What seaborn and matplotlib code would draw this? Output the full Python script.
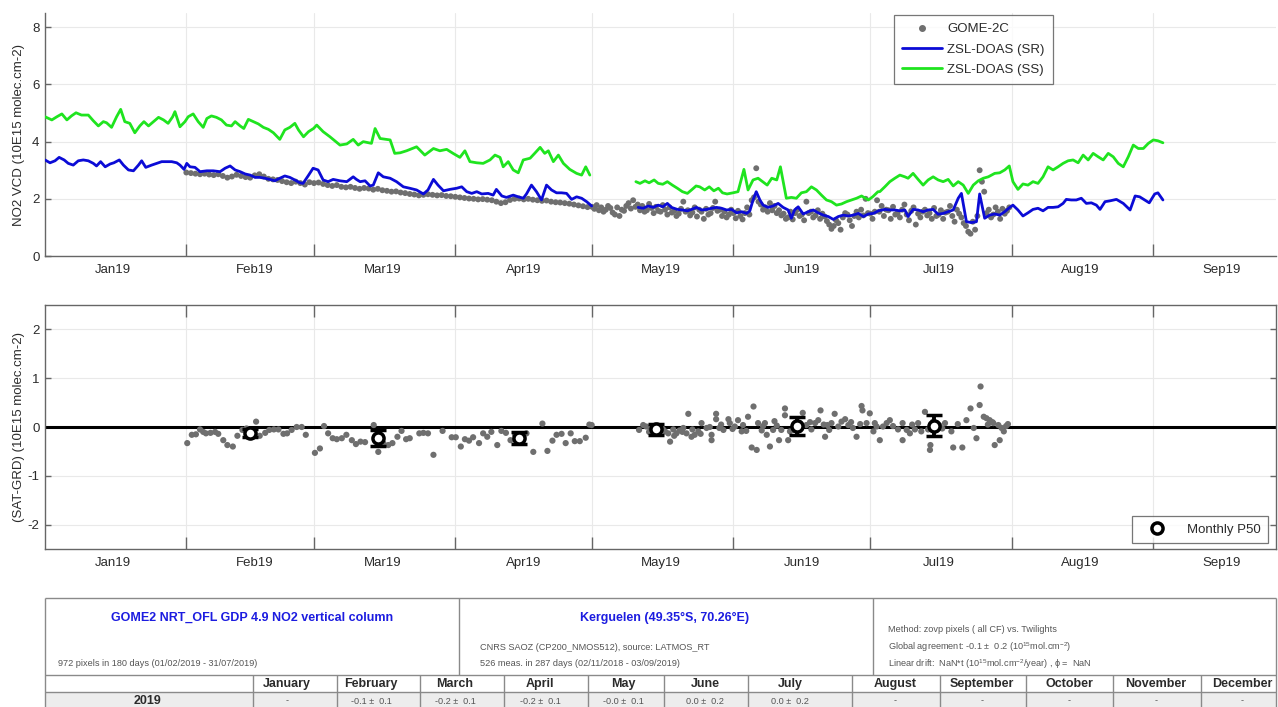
import numpy as np
import pandas as pd
import matplotlib
matplotlib.use("Agg")
import matplotlib.pyplot as plt
import matplotlib.dates as mdates
from matplotlib.lines import Line2D
import seaborn as sns

# ---------------- data: days since 2019-01-01 ----------------
sr1_day = [0, 1.1, 2.2, 3.1, 4.2, 5.1, 6.2, 7.3, 8.4, 9.5, 10.6, 11.3, 12.2, 13.2, 14.3, 15.1, 16.3, 17.2, 18.3, 19.4,
           20.5, 21.2, 22.1, 23.4, 24.5, 25.6, 26.7, 27.8, 28.9, 29.6, 30.5, 31.1, 31.8, 32.9, 34.0, 35.5, 36.9, 38.4, 39.5, 40.6,
           41.7, 42.8, 43.9, 45.0, 46.1, 47.1, 48.2, 49.3, 50.4, 51.5, 52.6, 53.7, 54.8, 55.9, 56.6, 57.7, 58.8, 59.9,
           61.0, 62.1, 63.2, 64.7, 66.2, 67.6, 68.3, 69.1, 70.2, 71.3, 72.0, 73.1, 74.2, 75.7, 77.1, 78.6, 80.0, 81.5, 83.0, 84.0,
           85.2, 86.2, 87.4, 88.8, 90.3, 91.4, 92.5, 93.6, 94.7, 95.8, 97.2, 98.3, 99.0, 100.2, 101.2, 102.7, 103.8, 104.9, 105.6, 106.7,
           107.8, 108.9, 110.0, 111.1, 112.2, 113.3, 114.4, 115.5, 116.6, 117.7, 118.8, 119.9]
sr1_val = [3.36, 3.26, 3.33, 3.45, 3.36, 3.24, 3.18, 3.33, 3.36, 3.33, 3.24, 3.15, 3.30, 3.12, 3.22, 3.26, 3.36, 3.18, 3.01, 2.98,
           3.18, 3.33, 3.10, 3.18, 3.24, 3.30, 3.30, 3.30, 3.26, 3.18, 3.03, 3.24, 3.12, 3.10, 2.95, 2.98, 2.98, 2.95, 3.07, 3.15,
           3.01, 2.95, 2.87, 2.83, 2.75, 2.75, 2.72, 2.68, 2.63, 2.72, 2.80, 2.75, 2.66, 2.56, 2.54, 2.80, 3.07, 3.01,
           2.66, 2.60, 2.68, 2.63, 2.60, 2.77, 2.68, 2.60, 2.63, 2.45, 2.48, 2.91, 2.77, 2.72, 2.60, 2.42, 2.37, 2.31, 2.17, 2.31,
           2.68, 2.48, 2.28, 2.33, 2.37, 2.42, 2.25, 2.19, 2.25, 2.17, 2.19, 2.13, 2.33, 2.10, 2.05, 2.13, 2.07, 2.02, 2.17, 2.48,
           2.25, 1.96, 2.48, 2.31, 2.21, 2.21, 2.19, 1.98, 2.07, 2.02, 1.90, 1.75]

sr2_day = [130.1, 131.2, 132.3, 133.4, 134.5, 135.5, 136.5, 137.4, 138.7, 139.8, 140.9, 141.8, 142.9, 144.0, 145.1, 146.2, 147.3, 148.4, 149.5, 150.6,
           151.7, 152.8, 153.9, 154.6, 155.3, 156.0, 156.8, 157.5, 158.6, 159.7, 160.8, 161.9, 163.0, 163.7, 164.4, 165.2, 166.3, 167.4, 168.5, 169.6,
           170.7, 171.8, 172.9, 174.0, 175.1, 176.2, 177.3, 178.4, 179.5, 180.6, 181.7, 182.8,
           184.2, 185.3, 186.4, 187.5, 188.6, 189.3, 190.4, 191.5, 192.6, 193.7, 194.8, 195.9, 197.0, 198.1, 199.2, 200.3, 201.0, 202.1,
           203.2, 204.3, 205.0, 206.1, 207.2, 208.3, 209.4, 210.5, 211.6, 212.3, 213.4, 214.5, 215.6, 216.7, 217.8, 218.9, 220.0, 221.1, 222.2, 223.3,
           224.0, 225.1, 226.2, 227.3, 228.4, 229.5, 230.6, 231.4, 232.5, 233.6, 235.0, 236.5, 238.0, 239.1, 240.1, 241.2, 242.2, 243.4, 244.1, 245.2]
sr2_val = [1.70, 1.67, 1.75, 1.70, 1.78, 1.72, 1.84, 1.70, 1.63, 1.61, 1.58, 1.63, 1.70, 1.61, 1.63, 1.67, 1.70, 1.67, 1.61, 1.63,
           1.51, 1.55, 1.49, 1.58, 1.96, 2.25, 1.96, 1.78, 1.70, 1.75, 1.84, 1.70, 1.61, 1.32, 1.61, 1.72, 1.47, 1.55, 1.61, 1.51,
           1.43, 1.38, 1.28, 1.38, 1.43, 1.40, 1.43, 1.49, 1.38, 1.47, 1.49, 1.58,
           1.63, 1.61, 1.61, 1.58, 1.61, 1.38, 1.63, 1.61, 1.55, 1.61, 1.63, 1.46, 1.49, 1.55, 1.61, 2.02, 2.19, 1.20,
           1.17, 1.20, 2.17, 1.32, 1.43, 1.47, 1.43, 1.55, 1.70, 1.78, 1.61, 1.40, 1.51, 1.63, 1.67, 1.58, 1.70, 1.70, 1.72, 1.84,
           1.98, 1.96, 1.96, 2.02, 1.84, 1.86, 1.78, 1.63, 1.90, 1.93, 1.98, 1.84, 1.61, 2.10, 2.07, 1.96, 1.86, 2.17, 2.21, 1.96]

ss1_day = [0, 1.5, 2.6, 3.7, 4.8, 5.8, 6.8, 8.0, 9.5, 10.6, 11.7, 12.8, 13.5, 14.6, 15.7, 16.6, 17.5, 18.6, 19.7, 20.8,
           21.7, 22.7, 23.8, 24.9, 26.0, 27.0, 28.0, 28.5, 29.6, 30.7, 31.4, 32.5, 33.6, 34.7, 35.5, 36.5, 37.6, 38.7, 39.8, 40.9,
           41.7, 42.8, 43.6, 44.6, 45.7, 46.8, 47.9, 49.0, 50.1, 51.5, 52.6, 53.7, 54.8, 55.6, 56.7, 57.8, 58.9, 59.6, 61.0, 62.5,
           64.7, 66.2, 67.6, 68.7, 69.8, 71.6, 72.4, 73.5, 75.7, 76.7, 77.9, 79.3, 81.5, 83.3, 85.2, 86.6, 88.1, 89.5, 91.0, 92.1,
           93.2, 94.7, 96.1, 97.6, 98.7, 99.8, 100.5, 101.6, 102.7, 103.8, 104.9, 106.4, 107.4, 108.6, 109.6, 110.4, 111.5, 112.6, 113.7, 115.1,
           116.6, 117.7, 118.6, 119.5]
ss1_val = [4.87, 4.76, 4.87, 4.97, 4.76, 4.90, 5.01, 4.93, 4.93, 4.73, 4.55, 4.70, 4.66, 4.50, 4.87, 5.13, 4.70, 4.64, 4.31, 4.55,
           4.70, 4.55, 4.70, 4.85, 4.76, 4.64, 4.87, 5.05, 4.52, 4.70, 4.87, 4.97, 4.70, 4.50, 4.81, 4.90, 4.85, 4.76, 4.58, 4.55,
           4.70, 4.55, 4.46, 4.78, 4.70, 4.62, 4.50, 4.43, 4.31, 4.08, 4.41, 4.50, 4.64, 4.41, 4.17, 4.35, 4.46, 4.58, 4.35, 4.17,
           3.88, 3.92, 4.08, 3.88, 4.00, 3.94, 4.46, 4.11, 4.06, 3.59, 3.61, 3.68, 3.82, 3.53, 3.76, 3.68, 3.73, 3.59, 3.45, 3.68,
           3.30, 3.26, 3.24, 3.36, 3.53, 3.45, 3.12, 3.30, 3.01, 2.91, 3.36, 3.42, 3.59, 3.80, 3.59, 3.68, 3.30, 3.53, 3.24, 3.03,
           2.89, 2.83, 3.12, 2.83]

ss2_day = [129.6, 130.5, 131.6, 132.5, 133.6, 134.5, 135.5, 136.5, 137.6, 138.7, 139.8, 140.9, 141.8, 142.8, 143.6, 144.7, 145.7, 146.7, 147.7, 148.6,
           149.6, 150.9, 152.0, 153.3, 154.2, 155.3, 156.4, 157.4, 158.4, 159.4, 160.5, 161.3, 162.6, 163.7, 164.8, 165.9, 167.0, 168.1, 169.2, 170.3,
           171.4, 172.5, 173.6, 174.7, 175.8, 176.9, 178.0, 179.1, 180.6, 181.6, 182.7,
           183.1, 184.2, 185.3, 186.4, 187.5, 188.6, 189.3, 190.4, 191.5, 192.6, 193.7, 194.8, 195.9, 197.0, 198.1, 199.2, 200.3, 201.4, 202.5,
           203.6, 204.7, 205.8, 206.9, 208.3, 209.4, 210.5, 211.5, 212.3, 213.4, 214.5, 215.6, 216.7, 217.8, 218.9, 220.0, 221.1, 222.2, 223.3, 224.4,
           225.5, 226.6, 227.7, 228.8, 229.9, 231.0, 232.1, 233.2, 234.3, 235.4, 236.5, 237.6, 238.7, 239.8, 240.9, 242.0, 243.1, 244.1, 245.2]
ss2_val = [2.60, 2.54, 2.63, 2.56, 2.66, 2.54, 2.51, 2.60, 2.48, 2.37, 2.25, 2.19, 2.31, 2.45, 2.42, 2.31, 2.42, 2.28, 2.37, 2.21,
           2.17, 2.21, 2.25, 3.03, 2.31, 2.66, 2.72, 2.60, 2.48, 2.72, 2.66, 3.12, 2.02, 2.05, 2.02, 2.21, 2.25, 2.42, 2.31, 2.13,
           1.96, 1.90, 1.78, 1.82, 1.90, 1.96, 2.02, 2.10, 1.96, 2.08, 2.25,
           2.25, 2.42, 2.60, 2.72, 2.83, 2.77, 2.72, 2.89, 2.68, 2.48, 2.66, 2.77, 2.66, 2.60, 2.68, 2.45, 2.60, 2.48, 2.19,
           2.48, 2.63, 2.72, 2.77, 2.89, 2.91, 3.01, 3.15, 2.60, 2.33, 2.52, 2.48, 2.60, 2.54, 2.77, 3.12, 3.01, 3.12, 3.24, 3.33,
           3.36, 3.26, 3.53, 3.36, 3.59, 3.47, 3.36, 3.59, 3.47, 3.24, 3.12, 3.47, 3.88, 3.76, 3.76, 3.94, 4.06, 4.03, 3.96]

# GOME-2C, Feb-Apr: one value per day from day 31 (Feb 1)
gome_fa_start = 31
gome_fa_val = [2.92, 2.90, 2.88, 2.86, 2.88, 2.85, 2.83, 2.86, 2.80, 2.74,
               2.78, 2.84, 2.80, 2.76, 2.74, 2.82, 2.86, 2.78, 2.70, 2.68,
               2.66, 2.62, 2.58, 2.55, 2.60, 2.55, 2.50, 2.58, 2.55, 2.57,
               2.52, 2.48, 2.45, 2.48, 2.42, 2.40, 2.42, 2.38, 2.35, 2.38,
               2.36, 2.32, 2.35, 2.30, 2.28, 2.25, 2.26, 2.22, 2.20, 2.17,
               2.15, 2.12, 2.14, 2.16, 2.14, 2.12, 2.13, 2.10, 2.09, 2.07,
               2.05, 2.03, 2.01, 2.00, 1.98, 1.99, 1.97, 1.95, 1.90, 1.85,
               1.88, 1.96, 2.00, 2.01, 1.98, 2.00, 1.97, 1.95, 1.93, 1.94,
               1.90, 1.88, 1.87, 1.85, 1.83, 1.80, 1.77, 1.74, 1.71]
# GOME-2C, May-Jul: two pixels per day from day 120 (May 1)
gome_mj_start = 120
gome_mj_val = [(1.72, 1.65), (1.78, 1.60), (1.70, 1.55), (1.62, 1.75), (1.68, 1.52), (1.45, 1.70), (1.40, 1.62), (1.58, 1.75),
               (1.85, 1.66), (1.95, 1.72), (1.80, 1.60),
               (1.75, 1.55), (1.60, 1.82), (1.68, 1.50), (1.72, 1.58), (1.55, 1.78), (1.62, 1.45), (1.70, 1.52), (1.58, 1.40),
               (1.48, 1.65), (1.90, 1.55), (1.60, 1.42), (1.52, 1.70), (1.38, 1.62), (1.55, 1.30), (1.65, 1.45), (1.50, 1.68),
               (1.90, 1.58), (1.62, 1.40), (1.55, 1.35), (1.45, 1.62), (1.50, 1.32), (1.58, 1.40), (1.28, 1.50), (1.70, 1.45),
               (1.95, 2.05), (3.07, 1.90), (1.80, 1.62), (1.70, 1.55), (1.85, 1.60), (1.75, 1.50),
               (1.60, 1.42), (1.48, 1.30), (1.35, 1.55), (1.28, 1.50), (1.62, 1.40), (1.45, 1.25), (1.90, 1.50), (1.55, 1.35),
               (1.42, 1.60), (1.30, 1.48), (1.38, 1.22), (1.10, 0.95), (1.05, 1.25), (1.15, 0.92), (1.35, 1.50), (1.45, 1.25),
               (1.05, 1.40), (1.55, 1.35), (1.62, 1.42), (2.00, 1.50), (1.48, 1.30), (1.55, 1.95),
               (1.55, 1.75), (1.40, 1.62), (1.60, 1.30), (1.72, 1.45), (1.50, 1.35), (1.62, 1.80), (1.45, 1.25), (1.58, 1.70),
               (1.10, 1.48), (1.35, 1.55), (1.62, 1.42), (1.50, 1.30), (1.68, 1.40), (1.45, 1.60), (1.30, 1.52), (1.55, 1.75),
               (1.40, 1.20), (1.62, 1.48), (1.35, 1.15), (1.05, 0.85), (0.78, 1.20), (0.92, 1.40), (3.00, 2.60), (2.25, 1.50),
               (1.62, 1.35), (1.45, 1.70), (1.55, 1.30), (1.65, 1.48), (1.58, 1.70)]

# SAT-GRD differences
diff_day = [31.2, 32.2, 33.1, 34.0, 34.7, 35.3, 36.3, 37.3, 38.0, 39.1, 40.0, 41.2, 42.2, 43.3, 44.2, 46.3, 47.1, 48.3, 49.2, 50.2,
            51.2, 52.3, 53.1, 54.1, 55.2, 56.3, 57.2, 59.2, 60.3, 61.2, 62.1, 63.1, 64.0, 65.1, 66.1, 67.3, 68.2, 69.2, 70.2, 72.1,
            73.1, 74.2, 75.3, 76.2, 77.3, 78.2, 79.2, 80.0, 82.1, 83.0, 84.0, 85.2, 87.2, 89.2, 90.1, 91.2, 92.1, 93.0, 93.9, 95.2,
            96.1, 97.0, 97.9, 99.2, 100.1, 101.1, 102.1, 103.1, 104.2, 105.6, 107.1, 109.1, 110.2, 111.3, 112.2, 113.3, 114.2, 115.3, 116.2, 117.3,
            118.6, 119.4, 119.9,
            130.3, 131.2, 131.9, 133.0, 134.9, 136.0, 136.7, 137.1, 137.8, 138.5, 139.2, 140.0, 140.7, 141.1, 141.8, 142.5, 143.3, 144.0, 145.1, 146.2,
            146.2, 147.2, 147.2, 147.9, 148.8, 149.9, 150.2, 151.3, 152.0, 152.8, 153.1, 154.2, 155.0, 155.4, 156.1, 156.4, 157.2, 157.9, 158.3, 159.0,
            159.7, 160.5, 161.0, 161.5, 162.3, 162.3, 163.0, 163.4, 164.1, 166.2, 167.0, 168.1, 168.9, 169.6, 170.1, 171.1, 171.6, 172.5, 173.2, 174.0,
            174.7, 175.5, 176.2, 177.2, 178.0, 179.1, 179.3, 180.2, 180.9, 181.7, 182.4, 183.1, 183.8, 184.6, 185.3, 187.1, 188.1, 188.1, 189.0, 189.7,
            190.8, 191.5, 192.2, 193.0, 193.7, 194.1, 194.2, 194.8, 196.2, 197.4, 198.8, 199.2, 201.2, 202.1, 203.0, 203.7, 204.3, 205.0, 205.2, 205.9,
            206.5, 207.2, 208.0, 208.3, 209.1, 209.4, 209.8, 210.3, 211.2,
            132.5, 134.0, 135.5, 138.0, 139.8, 142.0, 143.8, 145.8, 148.3, 150.8, 153.8, 157.5, 160.0, 165.0, 167.8, 170.8, 172.0, 176.8, 178.8, 182.0,
            186.0, 190.2, 196.8, 200.2, 206.8, 207.8, 210.8]
diff_val = [-0.33, -0.16, -0.15, -0.05, -0.10, -0.13, -0.12, -0.10, -0.14, -0.27, -0.37, -0.40, -0.18, -0.06, -0.03, 0.11, -0.18, -0.12, -0.06, -0.05,
            -0.05, -0.14, -0.13, -0.06, 0.00, 0.00, -0.16, -0.53, -0.44, 0.02, -0.13, -0.23, -0.25, -0.23, -0.16, -0.27, -0.35, -0.30, -0.31, 0.04,
            -0.51, -0.33, -0.37, -0.33, -0.20, -0.08, -0.25, -0.23, -0.13, -0.12, -0.13, -0.57, -0.08, -0.21, -0.21, -0.40, -0.25, -0.28, -0.21, -0.33,
            -0.13, -0.20, -0.10, -0.37, -0.08, -0.12, -0.27, -0.16, -0.20, -0.13, -0.51, 0.07, -0.49, -0.28, -0.16, -0.14, -0.33, -0.13, -0.29, -0.29,
            -0.22, 0.05, 0.04,
            -0.06, 0.04, 0.01, -0.02, -0.06, -0.09, -0.13, -0.30, -0.05, -0.13, -0.07, -0.02, -0.13, 0.27, -0.20, -0.16, -0.09, 0.08, -0.02, -0.16,
            -0.27, 0.27, 0.16, -0.02, -0.06, 0.16, 0.08, 0.01, 0.14, -0.09, 0.04, 0.21, -0.42, 0.42, -0.47, 0.08, -0.07, 0.08, -0.16, -0.40,
            -0.06, 0.03, -0.27, -0.06, 0.38, 0.24, -0.27, -0.09, -0.06, 0.29, 0.04, -0.05, 0.08, 0.14, 0.34, -0.20, 0.04, 0.08, 0.27, 0.01,
            0.11, 0.16, 0.04, -0.02, -0.20, 0.43, 0.34, 0.08, 0.28, -0.09, 0.01, -0.27, 0.01, 0.08, 0.14, -0.05, 0.08, -0.27, -0.06, -0.13,
            -0.05, 0.08, -0.09, 0.31, -0.05, -0.47, -0.37, 0.11, 0.03, 0.08, -0.09, -0.42, -0.42, 0.14, 0.38, -0.02, -0.23, 0.45, 0.83, 0.21,
            0.18, 0.14, 0.08, -0.37, 0.04, -0.27, -0.02, -0.09, 0.06,
            -0.10, -0.12, -0.04, -0.18, -0.10, -0.05, -0.14, 0.00, 0.05, -0.04, -0.08, 0.02, 0.12, -0.02, 0.10, 0.05, -0.06, 0.10, 0.06, 0.08,
            0.02, 0.05, -0.03, 0.06, 0.05, 0.10, 0.02]

# Monthly P50 (15th of each month)
p50_day = [45, 73, 104, 134, 165, 195]
p50_val = [-0.13, -0.22, -0.23, -0.05, 0.02, 0.03]
p50_err = [0.08, 0.16, 0.12, 0.11, 0.18, 0.21]

# table
tbl_months = ["January", "February", "March", "April", "May", "June", "July",
              "August", "September", "October", "November", "December"]
tbl_2019 = ["-", "-0.1 \u00b1  0.1", "-0.2 \u00b1  0.1", "-0.2 \u00b1  0.1", "-0.0 \u00b1  0.1",
            "0.0 \u00b1  0.2", "0.0 \u00b1  0.2", "-", "-", "-", "-", "-"]

# ---------------- style ----------------
sns.set_theme(style="white")
plt.rcParams['font.family'] = ['Liberation Sans', 'DejaVu Sans']
plt.rcParams['mathtext.default'] = 'regular'
plt.rcParams['axes.unicode_minus'] = False

BASE = pd.Timestamp("2019-01-01")
def to_dates(days):
    return pd.Series(BASE + pd.to_timedelta(np.asarray(days, dtype=float), unit="D"))

W, H = 1278, 707
fig = plt.figure(figsize=(W / 100, H / 100), dpi=100)
ax1 = fig.add_axes([45 / W, 1 - 256 / H, (1276 - 45) / W, (256 - 13) / H])
ax2 = fig.add_axes([45 / W, 1 - 549 / H, (1276 - 45) / W, (549 - 305) / H])

GREY = "#6f6f6f"
BLUE = "#0b0bd6"
GREEN = "#1fe41f"
TXT = "#2b2b2b"
EDGE = "#666666"

# top panel
fa_days = np.arange(gome_fa_start, gome_fa_start + len(gome_fa_val))
mj_days = np.repeat(np.arange(gome_mj_start, gome_mj_start + len(gome_mj_val)), 2) + np.tile([0.0, 0.5], len(gome_mj_val))
mj_vals = np.array(gome_mj_val).ravel()
g_days = np.concatenate([fa_days, mj_days])
g_vals = np.concatenate([np.array(gome_fa_val), mj_vals])
sns.scatterplot(x=to_dates(g_days), y=g_vals, ax=ax1, color=GREY, s=18, edgecolor="none", linewidth=0, legend=False, zorder=2)
for d, v in [(sr1_day, sr1_val), (sr2_day, sr2_val)]:
    sns.lineplot(x=to_dates(d), y=np.array(v), ax=ax1, color=BLUE, lw=2.0, estimator=None, sort=False, legend=False, zorder=3)
for d, v in [(ss1_day, ss1_val), (ss2_day, ss2_val)]:
    sns.lineplot(x=to_dates(d), y=np.array(v), ax=ax1, color=GREEN, lw=2.0, estimator=None, sort=False, legend=False, zorder=3)

# bottom panel
ax2.axhline(0, color="black", lw=2.2, zorder=2)
sns.scatterplot(x=to_dates(diff_day), y=np.array(diff_val), ax=ax2, color=GREY, s=20, edgecolor="none", linewidth=0,
                legend=False, zorder=3)
ax2.errorbar(to_dates(p50_day), p50_val, yerr=p50_err, fmt="o", mfc="white", mec="black", mew=2.5, ms=8,
             ecolor="black", elinewidth=2.8, capsize=5.5, capthick=2.8, zorder=5)

def style_axes(ax, box):
    ax.set_xlim(BASE, BASE + pd.Timedelta(days=270))
    ax.xaxis.set_major_locator(mdates.MonthLocator(bymonth=range(2, 10), bymonthday=1))
    ax.xaxis.set_major_formatter(plt.NullFormatter())
    ax.xaxis.set_minor_locator(mdates.MonthLocator(bymonthday=16))
    ax.xaxis.set_minor_formatter(mdates.DateFormatter("%b%y"))
    ax.tick_params(axis="x", which="major", direction="in", length=8.5, width=1, color=EDGE,
                   bottom=True, top=box)
    ax.tick_params(axis="x", which="minor", length=0, pad=6, labelsize=9.5, labelcolor=TXT)
    ax.tick_params(axis="y", which="major", direction="in", length=4, width=1, color=EDGE,
                   left=True, right=box, labelsize=9.5, labelcolor=TXT, pad=4)
    ax.grid(True, which="major", color="#e9e9e9", lw=0.8)
    ax.set_axisbelow(True)
    for s in ["left", "bottom"]:
        ax.spines[s].set_color(EDGE)
        ax.spines[s].set_linewidth(1)
    for s in ["top", "right"]:
        ax.spines[s].set_visible(box)
        ax.spines[s].set_color(EDGE)
        ax.spines[s].set_linewidth(1)
    ax.set_xlabel("")

style_axes(ax1, False)
style_axes(ax2, True)
ax1.set_ylim(0, 8.5)
ax1.set_yticks([0, 2, 4, 6, 8])
ax2.set_ylim(-2.5, 2.5)
ax2.set_yticks([-2, -1, 0, 1, 2])
ax1.set_ylabel("NO2 VCD (10E15 molec.cm-2)", fontsize=9.5, color=TXT)
ax2.set_ylabel("(SAT-GRD) (10E15 molec.cm-2)", fontsize=9.5, color=TXT)
ax1.yaxis.set_label_coords(-0.0165, 0.5)
ax2.yaxis.set_label_coords(-0.0165, 0.5)

# legends
h_top = [Line2D([], [], marker="o", ls="none", color=GREY, ms=4),
         Line2D([], [], color=BLUE, lw=2.0),
         Line2D([], [], color=GREEN, lw=2.0)]
leg1 = ax1.legend(h_top, ["GOME-2C", "ZSL-DOAS (SR)", "ZSL-DOAS (SS)"], loc="upper left",
                  bbox_to_anchor=(894 / W, 1 - 15 / H), bbox_transform=fig.transFigure, frameon=True,
                  fancybox=False, edgecolor="#555555", fontsize=9.5, handlelength=3.0, borderpad=0.6,
                  labelspacing=0.62, handletextpad=0.45, borderaxespad=0)
leg1.get_frame().set_linewidth(0.9)
for t in leg1.get_texts():
    t.set_color(TXT)
h_bot = [Line2D([], [], marker="o", ls="none", mfc="white", mec="black", mew=2.5, ms=8)]
leg2 = ax2.legend(h_bot, ["Monthly P50"], loc="lower right", bbox_to_anchor=(1268 / W, 1 - 543 / H),
                  bbox_transform=fig.transFigure, frameon=True, fancybox=False, edgecolor="#555555",
                  fontsize=9.5, handlelength=2.6, borderpad=0.55, handletextpad=1.0, borderaxespad=0)
leg2.get_frame().set_linewidth(0.9)
for t in leg2.get_texts():
    t.set_color(TXT)

# ---------------- table (figure pixel coordinates) ----------------
tax = fig.add_axes([0, 0, 1, 1])
tax.set_xlim(0, W)
tax.set_ylim(H, 0)
tax.axis("off")
LC = "#8a8a8a"
tax.add_patch(plt.Rectangle((45, 692), 1231, 20, color="#ededed", lw=0))
tax.hlines([598, 675, 692], 45, 1276, color=LC, lw=1)
tax.vlines([45, 1276], 598, 707, color=LC, lw=1)
tax.vlines([459, 873], 598, 675, color=LC, lw=1)
col_lines = [253, 337, 420, 504, 588, 664, 748, 852, 940, 1026, 1113, 1201]
tax.vlines(col_lines, 675, 707, color=LC, lw=1)

BT = "#1c1ce0"
tax.text(252, 618, "GOME2 NRT_OFL GDP 4.9 NO2 vertical column", color=BT, fontsize=9, fontweight="bold",
         ha="center", va="center")
tax.text(665, 618, "Kerguelen (49.35\u00b0S, 70.26\u00b0E)", color=BT, fontsize=9, fontweight="bold",
         ha="center", va="center")
SC = "#555555"
SF = 6.6
tax.text(58, 664, "972 pixels in 180 days (01/02/2019 - 31/07/2019)", color=SC, fontsize=SF, va="center")
tax.text(480, 647, "CNRS SAOZ (CP200_NMOS512), source: LATMOS_RT", color=SC, fontsize=SF, va="center")
tax.text(480, 664, "526 meas. in 287 days (02/11/2018 - 03/09/2019)", color=SC, fontsize=SF, va="center")
tax.text(888, 629, "Method: zovp pixels ( all CF) vs. Twilights", color=SC, fontsize=SF, va="center")
tax.text(888, 647, "Global agreement: -0.1 \u00b1  0.2 (10$^{15}$mol.cm$^{-2}$)", color=SC, fontsize=SF, va="center")
tax.text(888, 664, "Linear drift:  NaN*t (10$^{15}$mol.cm$^{-2}$/year) , \u03d5 =  NaN", color=SC, fontsize=SF,
         va="center")

month_x = [287, 371, 455, 540, 623, 705, 790, 895, 982, 1069, 1156, 1242]
for mx, m, v in zip(month_x, tbl_months, tbl_2019):
    tax.text(mx, 684, m, color=TXT, fontsize=9, fontweight="bold", ha="center", va="center")
    tax.text(mx, 701, v, color=SC, fontsize=SF, ha="center", va="center")
tax.text(148, 701, "2019", color=TXT, fontsize=9, fontweight="bold", ha="center", va="center")

fig.savefig("out.png", dpi=100)
